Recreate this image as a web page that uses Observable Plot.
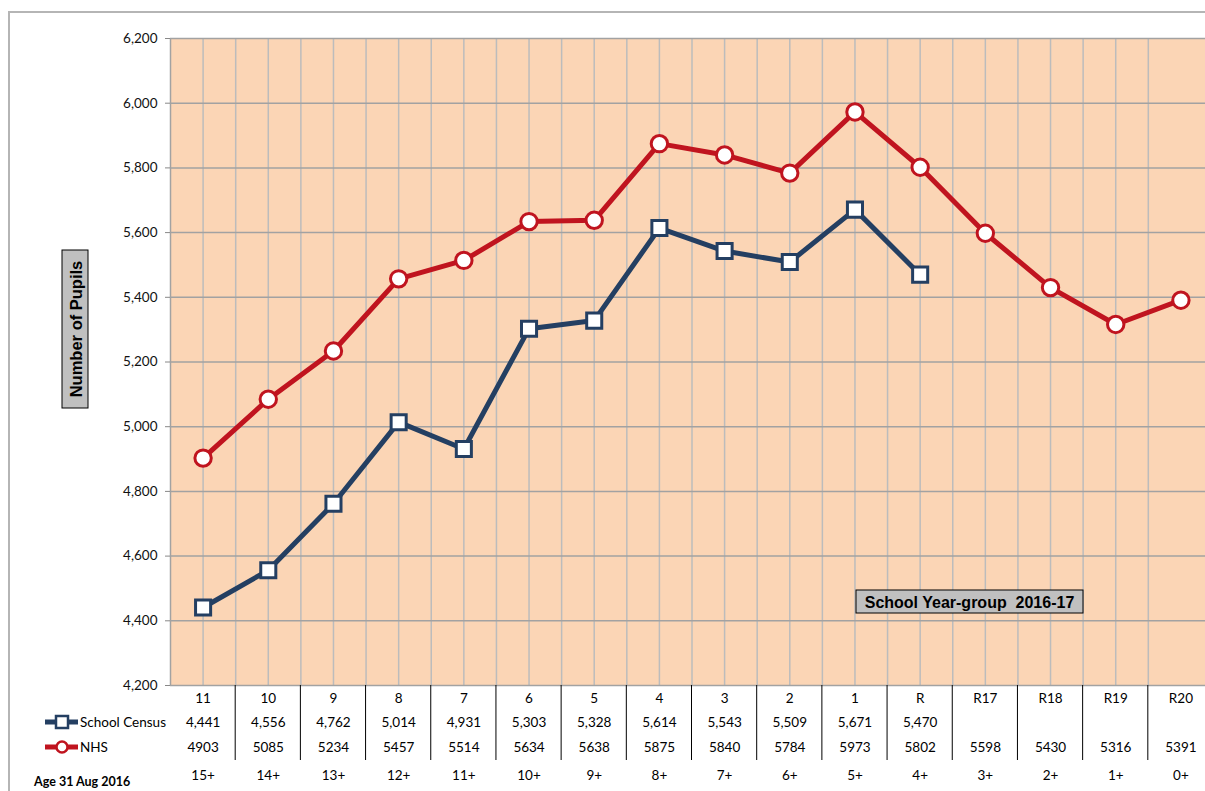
<!DOCTYPE html>
<html>
<head>
<meta charset="utf-8">
<script src="https://cdn.jsdelivr.net/npm/d3@7"></script>
<script src="https://cdn.jsdelivr.net/npm/@observablehq/plot@0.6"></script>
<style>
  html, body { margin: 0; padding: 0; background: #fff; }
  #chart svg { display: block; }
</style>
</head>
<body>
<div id="chart"></div>
<script>
const categories = ["11","10","9","8","7","6","5","4","3","2","1","R","R17","R18","R19","R20"];
const schoolCensus = [4441,4556,4762,5014,4931,5303,5328,5614,5543,5509,5671,5470,null,null,null,null];
const nhs = [4903,5085,5234,5457,5514,5634,5638,5875,5840,5784,5973,5802,5598,5430,5316,5391];
const ages = ["15+","14+","13+","12+","11+","10+","9+","8+","7+","6+","5+","4+","3+","2+","1+","0+"];
const yTicks = [4200,4400,4600,4800,5000,5200,5400,5600,5800,6000,6200];

const NAVY = "#243f62";
const RED = "#c0141f";

const rows = categories.map((c, i) => ({i, c, census: schoolCensus[i], nhs: nhs[i], age: ages[i]}));
const censusRows = rows.filter(d => d.census != null);
const gridX = categories.slice(0, -1).flatMap((c, i) => [i, i + 0.5]);
const sepX = categories.slice(0, -1).map((c, i) => i + 0.5);
const fmt = d3.format(",");

const tableText = {frameAnchor: "bottom", lineAnchor: "middle", fill: "#000", fontSize: 13.5};

const chart = Plot.plot({
  width: 1205,
  height: 791,
  marginTop: 38,
  marginBottom: 106,
  marginLeft: 170,
  marginRight: -8,
  style: {fontFamily: "Lato, 'Open Sans', sans-serif", fontSize: "13px", color: "#111", background: "#fff", overflow: "hidden"},
  x: {type: "linear", domain: [-0.5, categories.length - 0.5], range: [170, 1213], axis: null},
  y: {domain: [4200, 6200], range: [685, 38], axis: null},
  marks: [
    Plot.frame({fill: "#fbd5b5", stroke: null}),
    Plot.ruleX(gridX, {stroke: "#bcbcbc", strokeWidth: 1.5}),
    Plot.ruleY(yTicks, {stroke: "#a2a2a2", strokeWidth: 1.5}),
    Plot.ruleX([-0.5], {stroke: "#a2a2a2", strokeWidth: 1.5}),
    Plot.axisY(yTicks, {tickFormat: fmt, tickSize: 5, tickPadding: 8, stroke: "#888", fill: "#111", fontSize: 13.5}),
    Plot.line(censusRows, {x: "i", y: "census", stroke: NAVY, strokeWidth: 5, strokeLinejoin: "round"}),
    Plot.line(rows, {x: "i", y: "nhs", stroke: RED, strokeWidth: 5, strokeLinejoin: "round"}),
    Plot.dot(censusRows, {x: "i", y: "census", symbol: "square", r: 8.5, fill: "white", stroke: NAVY, strokeWidth: 3}),
    Plot.dot(rows, {x: "i", y: "nhs", symbol: "circle", r: 8.2, fill: "white", stroke: RED, strokeWidth: 3}),
    Plot.text(rows, {x: "i", text: "c", dy: 13, ...tableText}),
    Plot.text(rows, {x: "i", text: d => d.census == null ? "" : fmt(d.census), dy: 37, ...tableText}),
    Plot.text(rows, {x: "i", text: d => String(d.nhs), dy: 62, ...tableText}),
    Plot.text(rows, {x: "i", text: "age", dy: 90, ...tableText})
  ]
});

document.getElementById("chart").appendChild(chart);

const svg = d3.select(chart);
const xs = chart.scale("x");

// table separators
svg.append("g").selectAll("line").data(sepX).join("line")
  .attr("x1", d => xs.apply(d)).attr("x2", d => xs.apply(d))
  .attr("y1", 685).attr("y2", 760)
  .attr("stroke", "#000").attr("stroke-width", 1);

// outer chart border
const border = svg.append("g").attr("stroke", "#b5b5b5").attr("stroke-width", 2);
border.append("line").attr("x1", 8).attr("x2", 1205).attr("y1", 12).attr("y2", 12);
border.append("line").attr("x1", 9).attr("x2", 9).attr("y1", 12).attr("y2", 791);

// y title box
const yt = svg.append("g");
yt.append("rect").attr("x", 62).attr("y", 250).attr("width", 26).attr("height", 158)
  .attr("fill", "#c0c0c0").attr("stroke", "#000").attr("stroke-width", 1);
yt.append("text").attr("transform", "translate(76,329) rotate(-90)")
  .attr("text-anchor", "middle").attr("dominant-baseline", "central")
  .attr("font-family", "'Liberation Sans', Arial, sans-serif").attr("font-weight", "bold")
  .attr("font-size", 16.5).attr("fill", "#000").text("Number of Pupils");

// x title box
const xt = svg.append("g");
xt.append("rect").attr("x", 856).attr("y", 590).attr("width", 227).attr("height", 23)
  .attr("fill", "#c0c0c0").attr("stroke", "#000").attr("stroke-width", 1);
xt.append("text").attr("x", 969.5).attr("y", 602)
  .attr("text-anchor", "middle").attr("dominant-baseline", "central")
  .attr("font-family", "'Liberation Sans', Arial, sans-serif").attr("font-weight", "bold")
  .attr("font-size", 16).attr("fill", "#000").text("School Year-group \u00a02016-17");

// legend keys in the table
const lg = svg.append("g");
lg.append("line").attr("x1", 45).attr("x2", 78).attr("y1", 722).attr("y2", 722).attr("stroke", NAVY).attr("stroke-width", 5);
lg.append("rect").attr("x", 56).attr("y", 716).attr("width", 12).attr("height", 12).attr("fill", "white").attr("stroke", NAVY).attr("stroke-width", 2.5);
lg.append("text").attr("x", 80).attr("y", 722).attr("dominant-baseline", "central").attr("text-anchor", "start")
  .attr("font-family", "Lato, sans-serif").attr("font-size", 13.5).attr("fill", "#000").text("School Census");
lg.append("line").attr("x1", 45).attr("x2", 78).attr("y1", 747).attr("y2", 747).attr("stroke", RED).attr("stroke-width", 5);
lg.append("circle").attr("cx", 62).attr("cy", 747).attr("r", 5.5).attr("fill", "white").attr("stroke", RED).attr("stroke-width", 2.5);
lg.append("text").attr("x", 80).attr("y", 747).attr("dominant-baseline", "central").attr("text-anchor", "start")
  .attr("font-family", "Lato, sans-serif").attr("font-size", 13.5).attr("fill", "#000").text("NHS");

svg.append("text").attr("x", 34).attr("y", 781).attr("dominant-baseline", "central").attr("text-anchor", "start")
  .attr("font-family", "Lato, sans-serif").attr("font-weight", "bold").attr("font-size", 12.5)
  .attr("fill", "#000").text("Age 31 Aug 2016");
</script>
</body>
</html>
